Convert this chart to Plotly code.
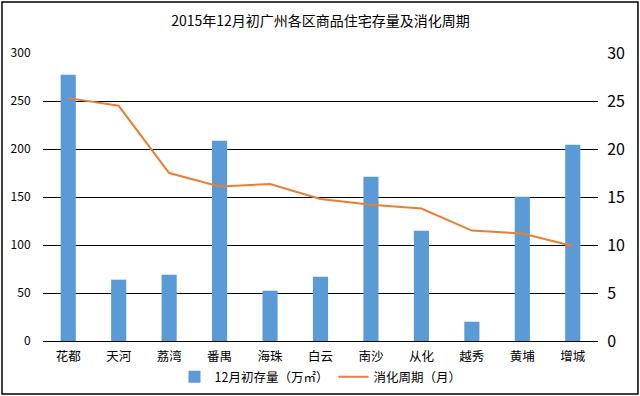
import plotly.graph_objects as go

districts = ["花都", "天河", "荔湾", "番禺", "海珠", "白云", "南沙", "从化", "越秀", "黄埔", "增城"]
stock = [277.4, 63.9, 69.0, 208.6, 52.4, 67.0, 171.1, 114.9, 20.1, 150.3, 204.5]
cycle = [25.3, 24.5, 17.5, 16.1, 16.35, 14.8, 14.2, 13.8, 11.5, 11.2, 9.9]

font_family = "Noto Sans CJK SC, Noto Sans, sans-serif"

fig = go.Figure()
fig.add_trace(go.Bar(
    x=districts, y=stock, name="12月初存量（万㎡）",
    marker=dict(color="#5B9BD5", line=dict(width=0)),
    yaxis="y",
))
fig.add_trace(go.Scatter(
    x=districts, y=cycle, name="消化周期（月）",
    mode="lines", line=dict(color="#ED7D31", width=2),
    yaxis="y2",
))

fig.update_layout(
    width=640, height=396,
    margin=dict(l=43, r=42, t=53, b=55, autoexpand=False),
    paper_bgcolor="white", plot_bgcolor="white",
    font=dict(family=font_family, size=12, color="#000000"),
    title=dict(text="2015年12月初广州各区商品住宅存量及消化周期",
               x=0.5, xanchor="center", xref="paper",
               y=0.947, yanchor="middle", yref="container",
               font=dict(size=14, color="#000000")),
    bargap=0.7,
    showlegend=True,
    legend=dict(orientation="h", x=0.5, xanchor="center", y=-0.125, yanchor="middle",
                font=dict(size=12.5), itemwidth=30, tracegroupgap=0),
    xaxis=dict(showgrid=False, showline=False, ticks="outside", ticklen=4,
               tickcolor="rgba(0,0,0,0)", tickfont=dict(size=12.5)),
    yaxis=dict(range=[0, 300], dtick=50, showgrid=True, gridcolor="#000000", gridwidth=1,
               zeroline=True, zerolinecolor="#000000", zerolinewidth=1,
               showline=False, ticks="outside", ticklen=9, tickcolor="rgba(0,0,0,0)",
               tickfont=dict(size=12)),
    yaxis2=dict(range=[0, 30], dtick=5, overlaying="y", side="right",
                showgrid=False, zeroline=False, showline=False,
                ticks="outside", ticklen=5, tickcolor="rgba(0,0,0,0)",
                tickfont=dict(size=16)),
    shapes=[dict(type="rect", xref="paper", yref="paper",
                 x0=-0.0739, x1=1.072, y0=-0.184, y1=1.177,
                 line=dict(color="#000000", width=1.5), fillcolor="rgba(0,0,0,0)",
                 layer="below")],
)

fig.write_html("out.html", config={"displayModeBar": False},
               post_script="document.body.style.margin='0';document.body.style.padding='0';")
